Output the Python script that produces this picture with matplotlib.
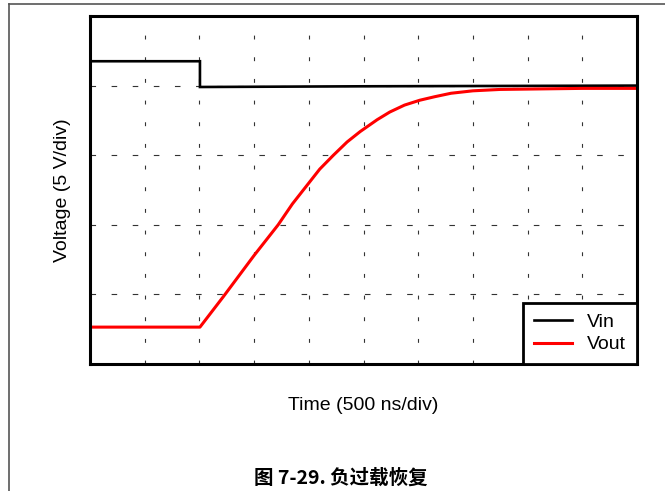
import matplotlib
matplotlib.use("Agg")
import matplotlib.pyplot as plt
from matplotlib.lines import Line2D

# time in divisions (500 ns/div), voltage in divisions (5 V/div)
vin_t = [0.0, 2.01, 2.01, 5.0, 10.0]
vin_v = [4.35, 4.35, 3.98, 3.99, 4.0]

vout_t = [0.0, 2.01, 2.44, 3.0, 3.44, 3.7, 4.0, 4.2, 4.45, 4.7, 4.94, 5.25, 5.48,
          5.75, 6.03, 6.3, 6.6, 7.0, 7.5, 8.0, 9.0, 10.0]
vout_v = [0.53, 0.53, 0.97, 1.56, 2.0, 2.3, 2.6, 2.8, 3.0, 3.19, 3.34, 3.51, 3.62,
          3.72, 3.79, 3.84, 3.89, 3.925, 3.945, 3.95, 3.96, 3.96]

x_divs = list(range(0, 11))
y_divs = list(range(0, 6))

W, H = 665, 491
fig = plt.figure(figsize=(W / 100, H / 100), dpi=100)
ax = fig.add_axes([90 / W, 1 - 364 / H, (637 - 90) / W, (364 - 16) / H])

ax.plot(vin_t, vin_v, color="black", lw=1.9, label="Vin", solid_joinstyle="miter")
ax.plot(vout_t, vout_v, color="#ff0000", lw=2.2, label="Vout")

ax.set_xlim(0, 10)
ax.set_ylim(0, 5)
ax.set_xticks(x_divs)
ax.set_yticks(y_divs)
ax.tick_params(length=0, labelbottom=False, labelleft=False)
ax.xaxis.grid(True, color="#333333", lw=0.8, linestyle=(0, (3.5, 16)))
ax.yaxis.grid(True, color="#333333", lw=0.8, linestyle=(0, (5, 14)))
ax.set_axisbelow(True)
for s in ax.spines.values():
    s.set_linewidth(2.2)

font = "Liberation Sans"
ax.set_xlabel("Time (500 ns/div)", fontsize=14, family=font, labelpad=24)
ax.set_ylabel("Voltage (5 V/div)", fontsize=14, family=font, labelpad=14)

leg = ax.legend(loc="lower right", borderaxespad=0, fancybox=False, framealpha=1,
                edgecolor="black", prop={"family": font, "size": 14},
                handlelength=1.95, handletextpad=0.8, labelspacing=0.25,
                borderpad=0.55)
leg.get_frame().set_linewidth(2.0)

fig.text(341 / W, 1 - 478 / H, "图 7-29. 负过载恢复", ha="center", va="center",
         fontsize=14, fontweight="bold", family=["Noto Sans CJK SC", "DejaVu Sans"])

# page frame lines
fig.add_artist(Line2D([9 / W, 1], [1 - 4 / H, 1 - 4 / H], color="#555555", lw=1.2))
fig.add_artist(Line2D([9 / W, 9 / W], [0, 1 - 4 / H], color="#555555", lw=1.2))

fig.savefig("out.png", dpi=100)
